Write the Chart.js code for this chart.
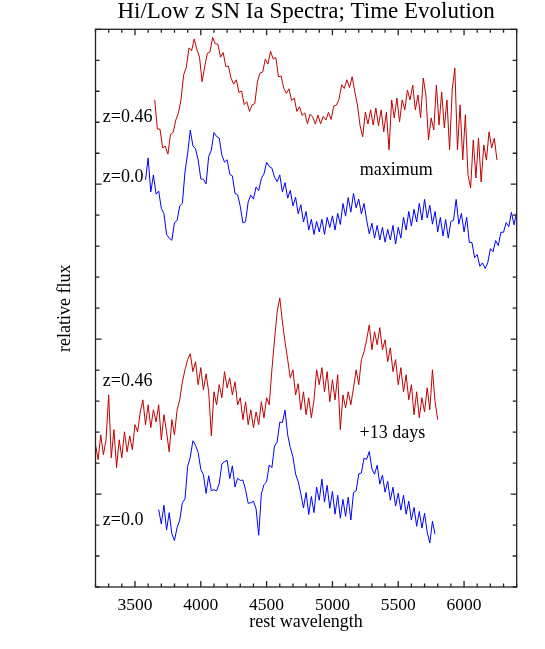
<!DOCTYPE html>
<html>
<head>
<meta charset="utf-8">
<title>Hi/Low z SN Ia Spectra</title>
<script src="https://cdn.jsdelivr.net/npm/chart.js"></script>
<style>
  html, body { margin: 0; padding: 0; background: #fff; }
  #wrap { width: 545px; height: 649px; }
</style>
</head>
<body>
<div id="wrap"><canvas id="spec" width="545" height="649"></canvas></div>
<script>
// all spectra sampled every 20 A in rest wavelength
const waveStep = 20;

// z=0.46 at maximum
const redMaxStart = 3650;
const redMaxFlux = [
  1.272,1.178,1.178,1.117,1.123,1.097,1.161,1.167,1.207,1.229,
  1.274,1.354,1.377,1.440,1.431,1.469,1.435,1.411,1.331,1.381,
  1.423,1.427,1.474,1.453,1.452,1.410,1.425,1.380,1.381,1.342,
  1.323,1.337,1.296,1.301,1.257,1.266,1.235,1.256,1.260,1.330,
  1.359,1.362,1.404,1.388,1.429,1.404,1.409,1.347,1.349,1.310,
  1.293,1.308,1.270,1.278,1.235,1.250,1.222,1.230,1.195,1.226,
  1.217,1.194,1.223,1.195,1.219,1.207,1.232,1.209,1.252,1.255,
  1.274,1.321,1.309,1.337,1.312,1.347,1.299,1.256,1.189,1.153,
  1.233,1.194,1.240,1.191,1.246,1.188,1.240,1.169,1.233,1.111,
  1.272,1.214,1.278,1.201,1.272,1.240,1.304,1.272,1.320,1.240,
  1.288,1.214,1.343,1.288,1.143,1.214,1.175,1.320,1.191,1.298,
  1.182,1.272,1.111,1.304,1.375,1.111,1.256,1.078,1.224,1.030,
  0.988,1.143,1.020,1.149,1.007,1.127,1.078,1.169,1.117,1.149,
  1.078
];

// z=0.0 at maximum
const blueMaxStart = 3580;
const blueMaxFlux = [
  1.014,1.085,0.975,1.030,0.968,0.978,0.922,0.905,0.838,0.826,
  0.819,0.876,0.883,0.930,0.938,1.040,1.099,1.175,1.124,1.114,
  1.078,1.017,1.016,1.001,1.090,1.110,1.167,1.154,1.149,1.094,
  1.071,1.079,1.032,1.027,0.970,0.966,0.928,0.875,0.879,0.943,
  0.965,0.952,0.991,0.979,1.019,1.033,1.071,1.057,1.052,1.023,
  1.008,1.030,0.975,1.005,0.955,0.980,0.930,0.958,0.905,0.934,
  0.878,0.912,0.852,0.887,0.838,0.880,0.846,0.887,0.838,0.893,
  0.860,0.898,0.852,0.906,0.870,0.938,0.897,0.957,0.910,0.970,
  0.924,0.952,0.904,0.938,0.884,0.840,0.874,0.826,0.867,0.820,
  0.861,0.813,0.854,0.820,0.867,0.807,0.861,0.826,0.893,0.852,
  0.912,0.865,0.919,0.878,0.938,0.884,0.951,0.891,0.932,0.871,
  0.912,0.846,0.893,0.833,0.886,0.826,0.880,0.884,0.951,0.871,
  0.906,0.846,0.893,0.812,0.812,0.763,0.773,0.735,0.746,0.728,
  0.746,0.792,0.782,0.818,0.802,0.845,0.845,0.876,0.863,0.909,
  0.869,0.911
];

// z=0.46 at +13 days
const redLateStart = 3200;
const redLateFlux = [
  0.159,0.111,0.191,0.127,0.175,0.320,0.117,0.208,0.085,0.175,
  0.117,0.201,0.136,0.188,0.143,0.224,0.201,0.265,0.304,0.224,
  0.288,0.214,0.272,0.233,0.288,0.175,0.256,0.201,0.136,0.240,
  0.191,0.272,0.304,0.362,0.401,0.434,0.453,0.395,0.427,0.353,
  0.408,0.336,0.388,0.330,0.188,0.330,0.288,0.353,0.311,0.395,
  0.343,0.375,0.320,0.362,0.288,0.311,0.240,0.298,0.224,0.272,
  0.214,0.265,0.224,0.298,0.246,0.311,0.288,0.401,0.498,0.588,
  0.633,0.556,0.491,0.434,0.375,0.401,0.320,0.356,0.272,0.330,
  0.256,0.311,0.246,0.304,0.401,0.353,0.408,0.330,0.395,0.298,
  0.369,0.304,0.385,0.208,0.320,0.278,0.330,0.288,0.343,0.401,
  0.353,0.434,0.459,0.498,0.546,0.466,0.524,0.482,0.537,0.466,
  0.498,0.427,0.472,0.395,0.434,0.353,0.408,0.330,0.385,0.304,
  0.353,0.256,0.330,0.246,0.311,0.265,0.343,0.272,0.401,0.298,
  0.240
];

// z=0.0 at +13 days
const blueLateStart = 3680;
const blueLateFlux = [
  -0.050,-0.097,-0.036,-0.116,-0.060,-0.128,-0.150,-0.108,-0.084,-0.028,
  -0.016,0.089,0.119,0.172,0.157,0.134,0.080,0.062,0.002,0.059,
  0.011,0.014,0.010,0.034,0.097,0.104,0.109,0.050,0.091,0.023,
  0.051,0.044,0.045,0.014,-0.030,-0.028,-0.023,-0.048,-0.133,0.001,
  0.030,0.040,0.094,0.085,0.155,0.168,0.232,0.231,0.271,0.191,
  0.150,0.120,0.065,0.040,0.001,-0.045,0.005,-0.066,-0.008,-0.060,
  0.022,-0.020,0.048,-0.026,0.028,-0.046,0.009,-0.065,-0.004,-0.078,
  -0.017,-0.072,-0.010,-0.084,0.005,0.010,0.065,0.068,0.116,0.112,
  0.137,0.081,0.064,0.093,0.032,0.061,0.006,0.041,-0.020,0.022,
  -0.039,0.003,-0.052,-0.004,-0.065,-0.023,-0.084,-0.043,-0.104,-0.056,
  -0.110,-0.062,-0.123,-0.158,-0.088,-0.130
];

const xTickValues = [3500, 4000, 4500, 5000, 5500, 6000];

const chartTitle = 'Hi/Low z SN Ia Spectra; Time Evolution';

// text labels placed in data coordinates (wavelength, flux)
const notes = [
  { text: 'z=0.46',   x: 3255, y: 1.215, align: 'left' },
  { text: 'z=0.0',    x: 3255, y: 1.024, align: 'left' },
  { text: 'maximum',  x: 5485, y: 1.046, align: 'center' },
  { text: 'z=0.46',   x: 3255, y: 0.365, align: 'left' },
  { text: '+13 days', x: 5455, y: 0.195, align: 'center' },
  { text: 'z=0.0',    x: 3255, y: -0.086, align: 'left' }
];

const FONT = '"Liberation Serif", "Times New Roman", serif';

function toPoints(start, flux) {
  return flux.map((f, i) => ({ x: start + i * waveStep, y: f }));
}

function spec(start, flux, color) {
  return {
    data: toPoints(start, flux),
    borderColor: color,
    borderWidth: 1,
    pointRadius: 0,
    tension: 0,
    fill: false
  };
}

// box with inward ticks on all four sides, the title and the text labels
const framePlugin = {
  id: 'frame',
  afterDraw(chart) {
    const { ctx, chartArea: a, scales: { x, y } } = chart;
    ctx.save();
    ctx.strokeStyle = '#222';
    ctx.lineWidth = 1.3;
    ctx.strokeRect(a.left, a.top, a.right - a.left, a.bottom - a.top);
    ctx.beginPath();
    for (let w = 3200; w <= 6400; w += 100) {
      const px = x.getPixelForValue(w);
      const len = w % 500 === 0 ? 6 : 3.5;
      ctx.moveTo(px, a.bottom); ctx.lineTo(px, a.bottom - len);
      ctx.moveTo(px, a.top); ctx.lineTo(px, a.top + len);
    }
    for (let k = -3; k <= 15; k++) {
      const py = y.getPixelForValue(k / 10);
      const len = k % 5 === 0 ? 6 : 4;
      ctx.moveTo(a.left, py); ctx.lineTo(a.left + len, py);
      ctx.moveTo(a.right, py); ctx.lineTo(a.right - len, py);
    }
    ctx.stroke();

    ctx.fillStyle = '#000';
    ctx.textBaseline = 'middle';
    ctx.textAlign = 'center';
    ctx.font = '23px ' + FONT;
    ctx.fillText(chartTitle, (a.left + a.right) / 2, 12);

    ctx.font = '18px ' + FONT;
    notes.forEach(n => {
      ctx.textAlign = n.align;
      ctx.fillText(n.text, x.getPixelForValue(n.x), y.getPixelForValue(n.y));
    });
    ctx.restore();
  }
};

new Chart(document.getElementById('spec'), {
  type: 'line',
  data: {
    datasets: [
      spec(redMaxStart, redMaxFlux, '#c00000'),
      spec(blueMaxStart, blueMaxFlux, '#0000ff'),
      spec(redLateStart, redLateFlux, '#c00000'),
      spec(blueLateStart, blueLateFlux, '#0000ff')
    ]
  },
  options: {
    responsive: false,
    animation: false,
    devicePixelRatio: 1,
    layout: { padding: { left: 0, right: 28.3, top: 29.3, bottom: 0 } },
    plugins: {
      legend: { display: false },
      tooltip: { enabled: false },
      title: { display: false }
    },
    scales: {
      x: {
        type: 'linear',
        min: 3200,
        max: 6400,
        grid: { display: false, drawTicks: false },
        border: { display: false },
        afterBuildTicks: s => { s.ticks = xTickValues.map(v => ({ value: v })); },
        afterFit: s => { s.height = 62; },
        ticks: {
          color: '#000',
          font: { family: FONT, size: 17.5, lineHeight: 1 },
          padding: 10,
          maxRotation: 0,
          autoSkip: false,
          callback: v => String(v)
        },
        title: {
          display: true,
          text: 'rest wavelength',
          color: '#000',
          font: { family: FONT, size: 18, lineHeight: 1.2 },
          padding: { top: 0, bottom: 16 }
        }
      },
      y: {
        type: 'linear',
        min: -0.3,
        max: 1.5,
        grid: { display: false, drawTicks: false },
        border: { display: false },
        ticks: { display: false },
        afterFit: s => { s.width = 95.5; },
        title: {
          display: true,
          text: 'relative flux',
          color: '#000',
          font: { family: FONT, size: 18, lineHeight: 1.2 },
          padding: { top: 54, bottom: 0 }
        }
      }
    }
  },
  plugins: [framePlugin]
});
</script>
</body>
</html>
